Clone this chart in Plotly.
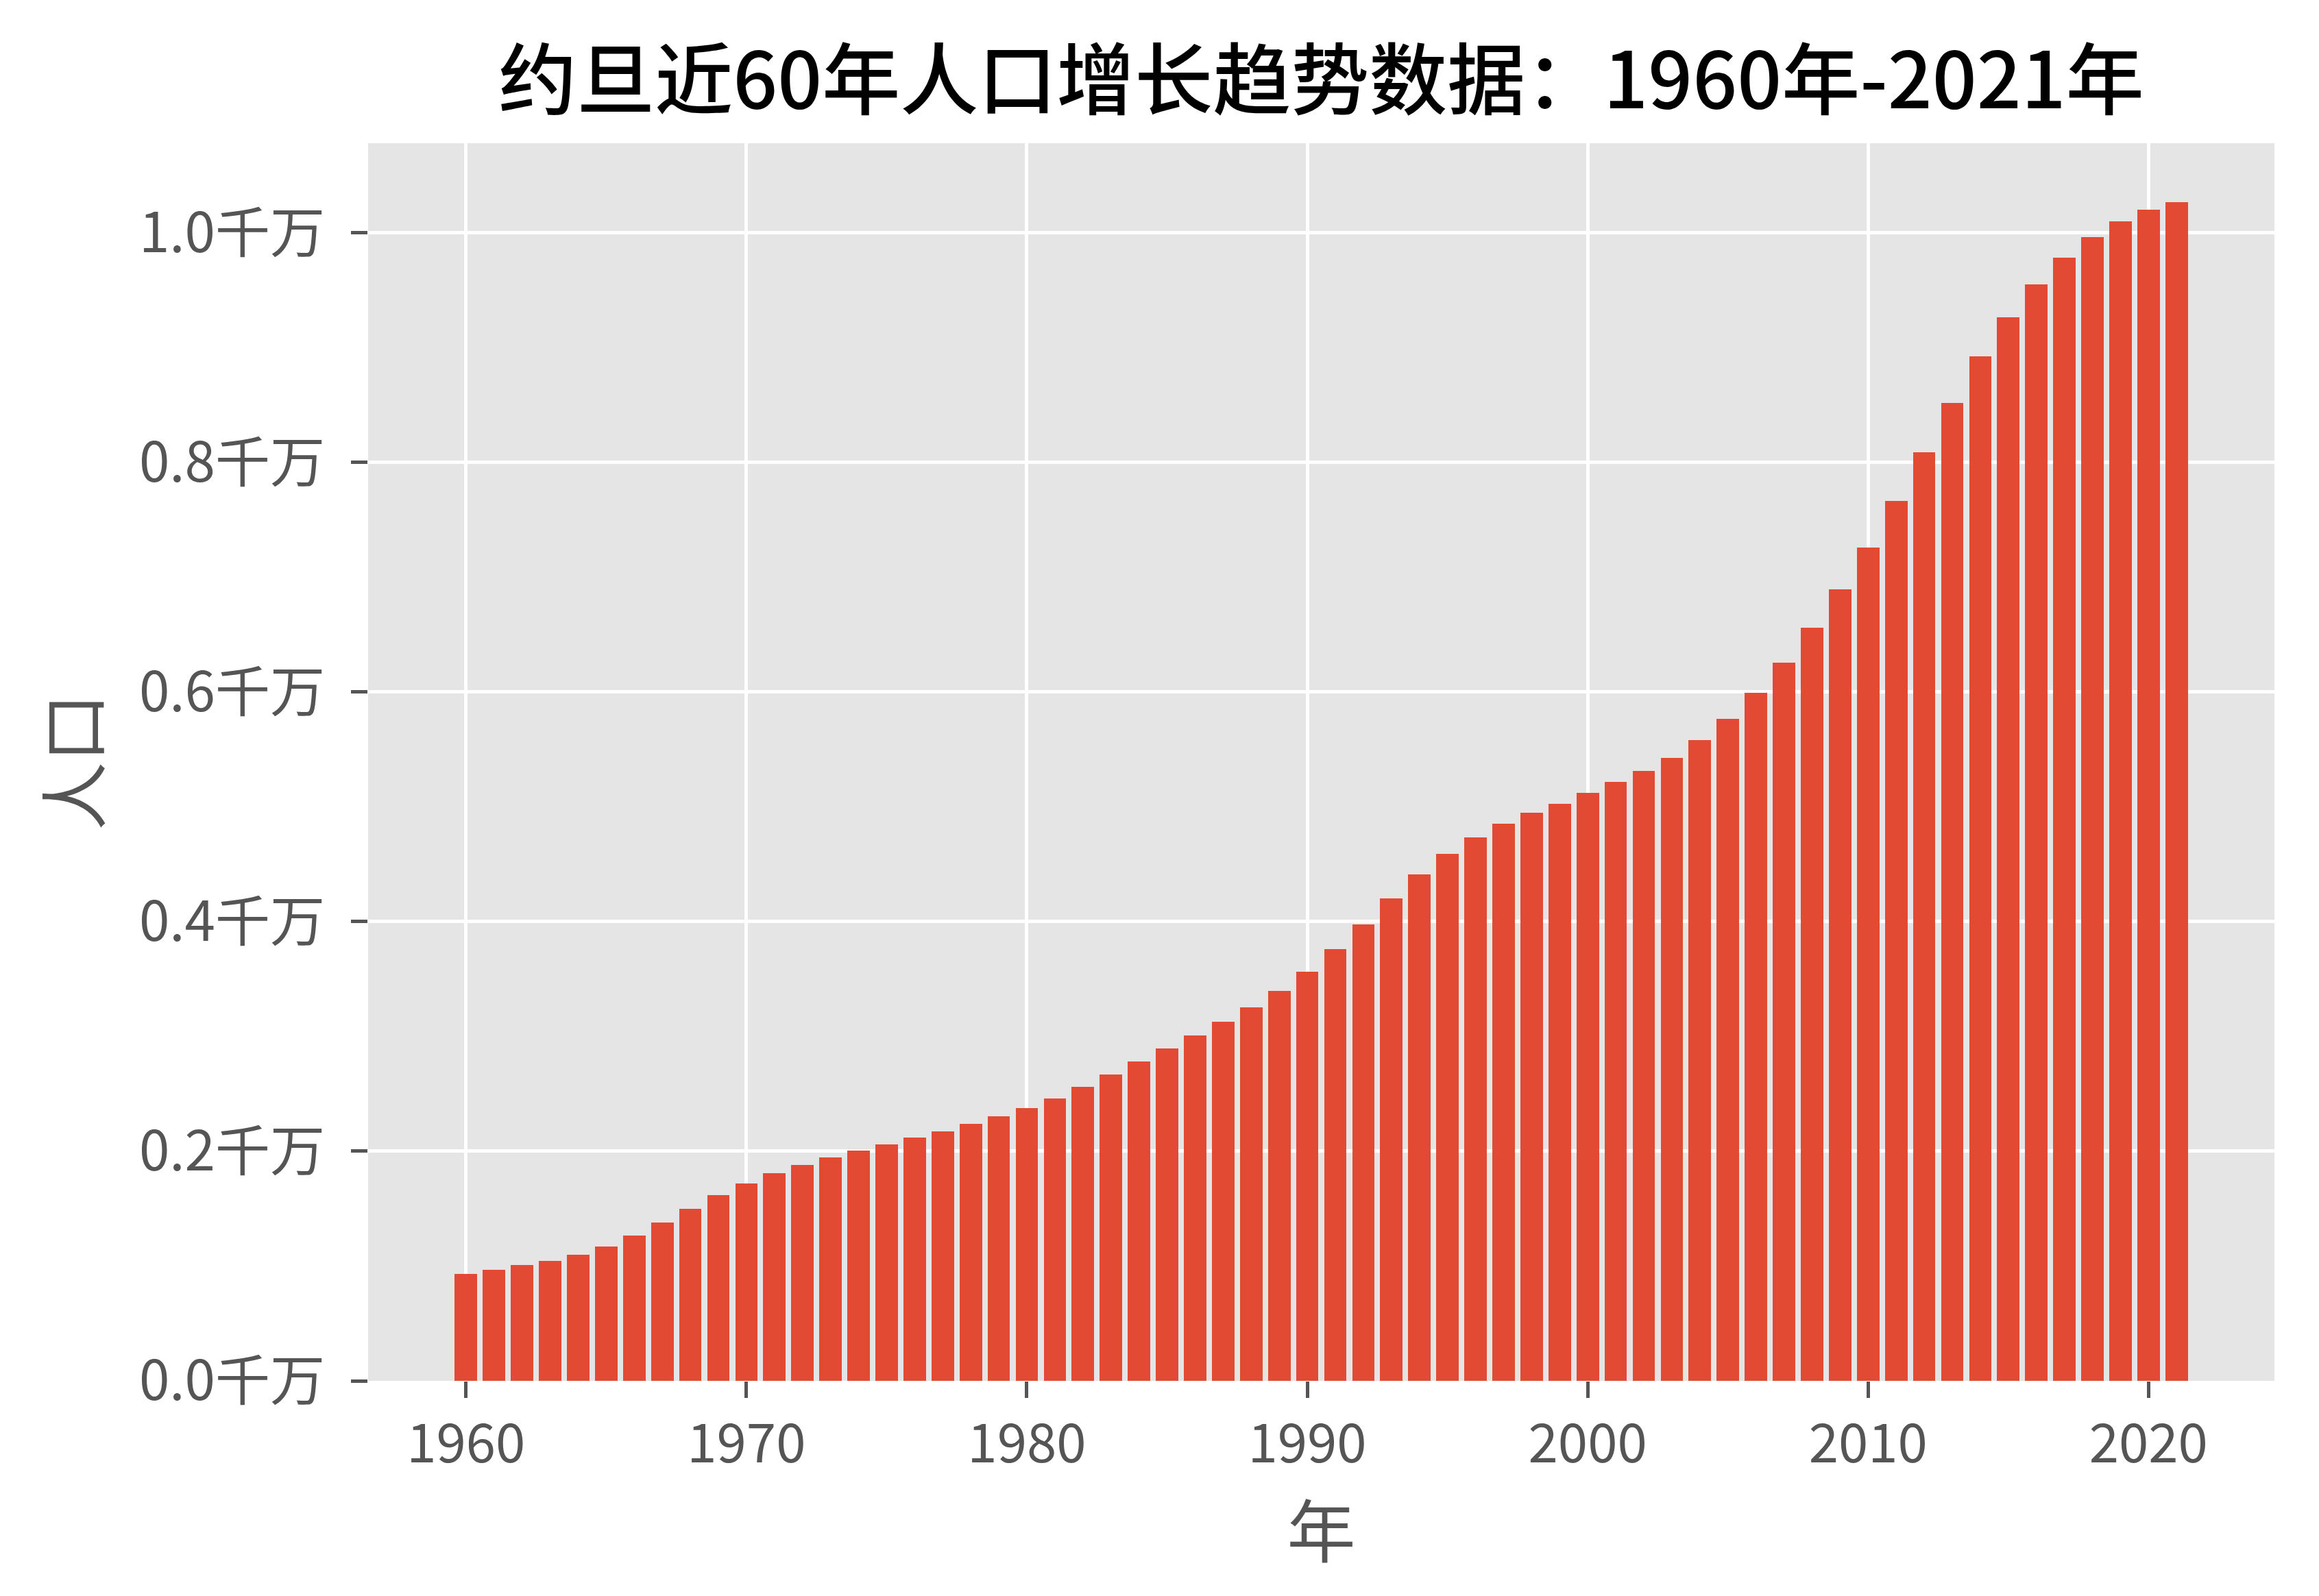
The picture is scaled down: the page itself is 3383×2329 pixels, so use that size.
import plotly.graph_objects as go

years = list(range(1960, 2022))
# population in units of 千万 (10 million)
population = [
    0.0930, 0.0966, 0.1007, 0.1043, 0.1099, 0.1170, 0.1265, 0.1378, 0.1496, 0.1615,
    0.1719, 0.1807, 0.1879, 0.1944, 0.2003, 0.2062, 0.2121, 0.2175, 0.2237, 0.2302,
    0.2373, 0.2462, 0.2563, 0.2670, 0.2782, 0.2898, 0.3010, 0.3129, 0.3253, 0.3399,
    0.3564, 0.3760, 0.3973, 0.4204, 0.4409, 0.4589, 0.4731, 0.4852, 0.4948, 0.5027,
    0.5123, 0.5219, 0.5311, 0.5428, 0.5582, 0.5766, 0.5992, 0.6255, 0.6559, 0.6894,
    0.7261, 0.7666, 0.8088, 0.8518, 0.8923, 0.9265, 0.9553, 0.9783, 0.9962, 1.0100,
    1.0200, 1.0267,
]
title_text = "约旦近60年人口增长趋势数据：1960年-2021年"
x_label = "年"
y_label = "人口"
y_suffix = "千万"

FONT = "Noto Sans CJK SC, SimHei, sans-serif"
BAR = "#E24A33"
BG = "#E5E5E5"
TXT = "#555555"

fig = go.Figure(go.Bar(x=years, y=population, width=0.8, marker=dict(color=BAR, line=dict(width=0))))

xmin = years[0] - 0.4
xmax = years[-1] + 0.4
pad = (xmax - xmin) * 0.05

fig.update_layout(
    width=3383, height=2329,
    margin=dict(l=537, r=65, t=209, b=314),
    paper_bgcolor="white", plot_bgcolor=BG,
    showlegend=False,
    bargap=0,
    title=dict(text=title_text, x=0.5, xref="paper", xanchor="center",
               y=1 - 118 / 2329, yref="container", yanchor="middle",
               font=dict(family=FONT, size=114, color="black", weight=500)),
    font=dict(family=FONT, color=TXT),
)
fig.update_xaxes(
    range=[xmin - pad, xmax + pad],
    tickmode="linear", tick0=1960, dtick=10,
    ticks="outside", ticklen=24, tickwidth=5, tickcolor=TXT,
    tickfont=dict(family=FONT, size=78, color=TXT),
    showgrid=True, gridcolor="white", gridwidth=5,
    zeroline=False, showline=False,
    title=dict(text=x_label, font=dict(family=FONT, size=100, color=TXT), standoff=18),
)
fig.update_yaxes(
    range=[0, max(population) * 1.05],
    tickmode="linear", tick0=0, dtick=0.2, tickformat=".1f", ticksuffix=y_suffix,
    ticks="outside", ticklen=24, tickwidth=5, tickcolor=TXT,
    tickfont=dict(family=FONT, size=80, color=TXT),
    ticklabelstandoff=22,
    showgrid=True, gridcolor="white", gridwidth=5,
    zeroline=False, showline=False,
    title=dict(text=y_label, font=dict(family=FONT, size=100, color=TXT), standoff=22),
)

fig.write_html("out.html")
